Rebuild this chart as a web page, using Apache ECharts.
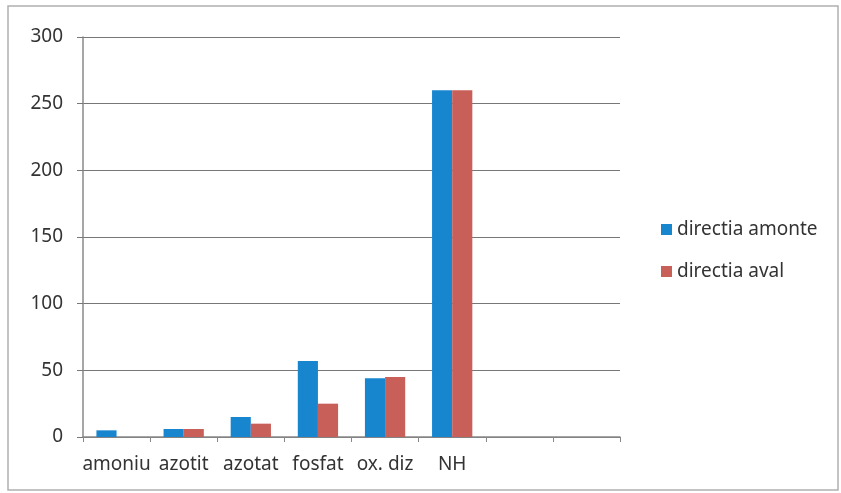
<!DOCTYPE html>
<html>
<head>
<meta charset="utf-8">
<script src="https://cdn.jsdelivr.net/npm/echarts@6/dist/echarts.min.js"></script>
<style>
html,body{margin:0;padding:0;background:#fff;}
#main{width:841px;height:493px;}
</style>
</head>
<body>
<div id="main"></div>
<script>
var categories = ['amoniu', 'azotit', 'azotat', 'fosfat', 'ox. diz', 'NH', '', ''];
var amonte = [5, 6, 15, 57, 44, 260, null, null];
var aval = [0, 6, 10, 25, 45, 260, null, null];
var yTicks = [0, 50, 100, 150, 200, 250, 300];

var myChart = echarts.init(document.getElementById('main'));
var option = {
	backgroundColor: '#fff',
	textStyle: { fontFamily: 'Noto Sans' },
	graphic: [{
		type: 'rect',
		shape: { x: 8, y: 6, width: 830, height: 484 },
		style: { fill: 'none', stroke: '#b0b0b0', lineWidth: 1.5 },
		silent: true
	}],
	legend: {
		orient: 'vertical',
		left: 656,
		top: 215,
		itemWidth: 11,
		itemHeight: 11,
		itemGap: 23,
		icon: 'rect',
		textStyle: { fontSize: 19, color: '#333', fontFamily: 'Noto Sans' },
		data: ['directia amonte', 'directia aval']
	},
	grid: { left: 83, right: 221, top: 37, bottom: 56 },
	xAxis: {
		type: 'category',
		data: categories,
		axisLine: { lineStyle: { color: '#888', width: 1.5 } },
		axisTick: { show: true, length: 5, lineStyle: { color: '#888' } },
		axisLabel: { fontSize: 19, color: '#333', margin: 18, interval: 0 },
		splitLine: { show: false }
	},
	yAxis: {
		type: 'value',
		min: yTicks[0],
		max: yTicks[yTicks.length - 1],
		interval: 50,
		axisLine: { show: true, lineStyle: { color: '#888', width: 1.5 } },
		axisTick: { show: true, length: 6, lineStyle: { color: '#777' } },
		axisLabel: { fontSize: 19, color: '#333', margin: 20 },
		splitLine: { lineStyle: { color: '#777', width: 1.2 } }
	},
	series: [{
		name: 'directia amonte',
		type: 'bar',
		barGap: '0%',
		barCategoryGap: '40%',
		itemStyle: { color: '#1886cf' },
		data: amonte
	}, {
		name: 'directia aval',
		type: 'bar',
		itemStyle: { color: '#c95f59' },
		data: aval
	}]
};
myChart.setOption(option);
</script>
</body>
</html>
